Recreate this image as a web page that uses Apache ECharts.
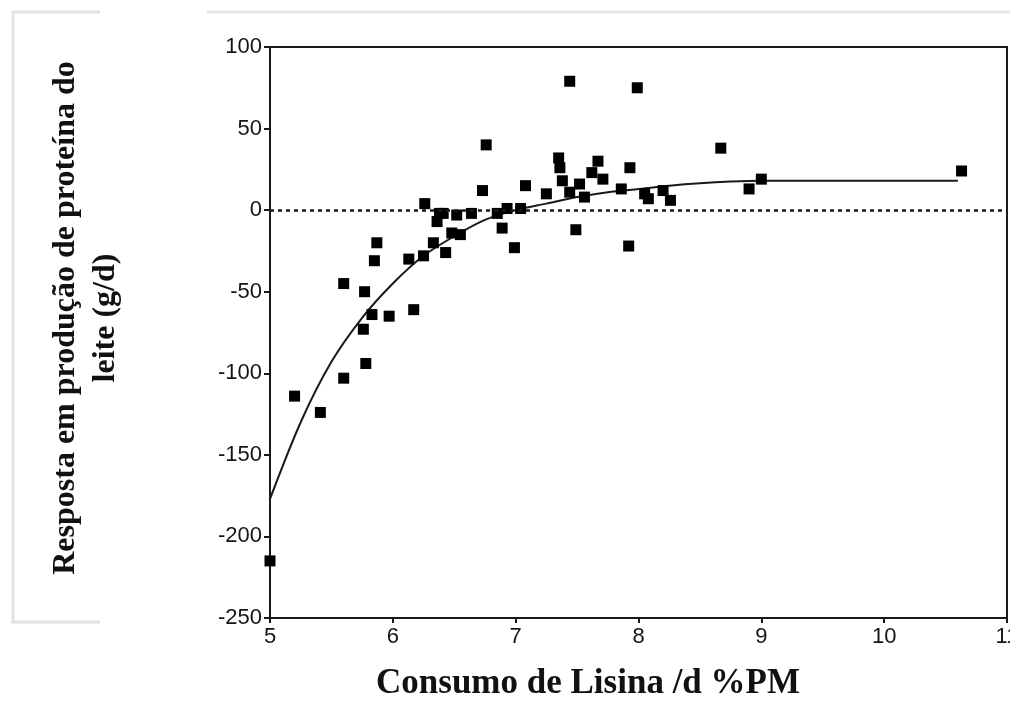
<!DOCTYPE html>
<html>
  <head>
    <meta charset="UTF-8" />
    <title>Resposta em produção de proteína do leite</title>
    <script src="https://cdn.jsdelivr.net/npm/echarts@6/dist/echarts.min.js"></script>
    <style>
      html, body { margin: 0; padding: 0; background: #fff; overflow: hidden; }
    </style>
  </head>
  <body>
    <div id="chart" style="width: 1010px; height: 711px"></div>
  </body>
  <script>
    // observed points: [lysine intake %PM, response g/d]
    const observedPoints = [
      [5.00, -215], [5.20, -114], [5.41, -124], [5.60, -103], [5.60, -45],
      [5.76, -73], [5.77, -50], [5.78, -94], [5.83, -64], [5.85, -31],
      [5.87, -20], [5.97, -65], [6.13, -30], [6.17, -61], [6.25, -28],
      [6.26, 4], [6.33, -20], [6.36, -7], [6.38, -2], [6.41, -2],
      [6.43, -26], [6.48, -14], [6.52, -3], [6.55, -15], [6.64, -2],
      [6.73, 12], [6.76, 40], [6.85, -2], [6.89, -11], [6.93, 1],
      [6.99, -23], [7.04, 1], [7.08, 15], [7.25, 10], [7.35, 32],
      [7.36, 26], [7.38, 18], [7.44, 79], [7.44, 11], [7.49, -12],
      [7.52, 16], [7.56, 8], [7.62, 23], [7.67, 30], [7.71, 19],
      [7.86, 13], [7.92, -22], [7.93, 26], [7.99, 75], [8.05, 10],
      [8.08, 7], [8.20, 12], [8.26, 6], [8.67, 38], [8.90, 13],
      [9.00, 19], [10.63, 24]
    ];

    // fitted response curve
    const fittedCurve = [
      [5.00, -177], [5.25, -130], [5.50, -93], [5.75, -66], [6.00, -45],
      [6.25, -28], [6.50, -16], [6.75, -6], [7.00, 0], [7.25, 4],
      [7.50, 8], [7.75, 11], [8.00, 13], [8.25, 15], [8.50, 16.5],
      [8.75, 17.5], [9.00, 18], [9.50, 18], [10.00, 18], [10.60, 18]
    ];

    const xTicks = { min: 5, max: 11, step: 1 };
    const yTicks = { min: -250, max: 100, step: 50 };

    const ink = '#1a1a1a';
    const chart = echarts.init(document.getElementById('chart'));

    chart.setOption({
      animation: false,
      backgroundColor: '#fff',
      grid: {
        left: 270, right: 3, top: 47, bottom: 93,
        outerBoundsMode: 'none',
        containLabel: false,
        show: true, borderColor: ink, borderWidth: 2
      },
      xAxis: {
        type: 'value',
        min: xTicks.min, max: xTicks.max, interval: xTicks.step,
        axisLine: { onZero: false, lineStyle: { color: ink, width: 2 } },
        axisTick: { show: true, length: 5, lineStyle: { color: ink, width: 2 } },
        axisLabel: { color: '#151515', fontSize: 22, fontFamily: 'Liberation Sans', margin: 8 },
        splitLine: { show: false }
      },
      yAxis: {
        type: 'value',
        min: yTicks.min, max: yTicks.max, interval: yTicks.step,
        axisLine: { onZero: false, lineStyle: { color: ink, width: 2 } },
        axisTick: { show: true, length: 6, lineStyle: { color: ink, width: 2 } },
        axisLabel: { color: '#151515', fontSize: 22, fontFamily: 'Liberation Sans', margin: 8 },
        splitLine: { show: false }
      },
      graphic: [
        // faint frame left over from the scanned figure
        {
          type: 'polyline', silent: true,
          shape: { points: [[100, 12], [13, 12], [13, 622], [100, 622]] },
          style: { stroke: '#e2e2e2', lineWidth: 3, fill: null }
        },
        {
          type: 'line', silent: true,
          shape: { x1: 207, y1: 12, x2: 1010, y2: 12 },
          style: { stroke: '#e6e6e6', lineWidth: 3 }
        },
        {
          type: 'text', x: 86, y: 318, rotation: Math.PI / 2,
          style: {
            text: 'Resposta em produção de proteína do\nleite (g/d)',
            font: 'bold 32px "Liberation Serif"',
            fill: '#111', align: 'center', verticalAlign: 'middle', lineHeight: 40
          }
        },
        {
          type: 'text', x: 588, y: 684,
          style: {
            text: 'Consumo de Lisina /d %PM',
            font: 'bold 35px "Liberation Serif"',
            fill: '#111', align: 'center', verticalAlign: 'middle'
          }
        }
      ],
      series: [
        {
          type: 'line',
          data: fittedCurve,
          smooth: 0.3,
          showSymbol: false,
          lineStyle: { color: ink, width: 2 },
          z: 2
        },
        {
          type: 'scatter',
          data: observedPoints,
          symbol: 'rect',
          symbolSize: 11,
          itemStyle: { color: '#000', opacity: 1 },
          markLine: {
            silent: true,
            symbol: 'none',
            label: { show: false },
            lineStyle: { color: ink, type: [4, 4], width: 2.5 },
            data: [{ yAxis: 0 }]
          },
          z: 3
        }
      ]
    });
  </script>
</html>
